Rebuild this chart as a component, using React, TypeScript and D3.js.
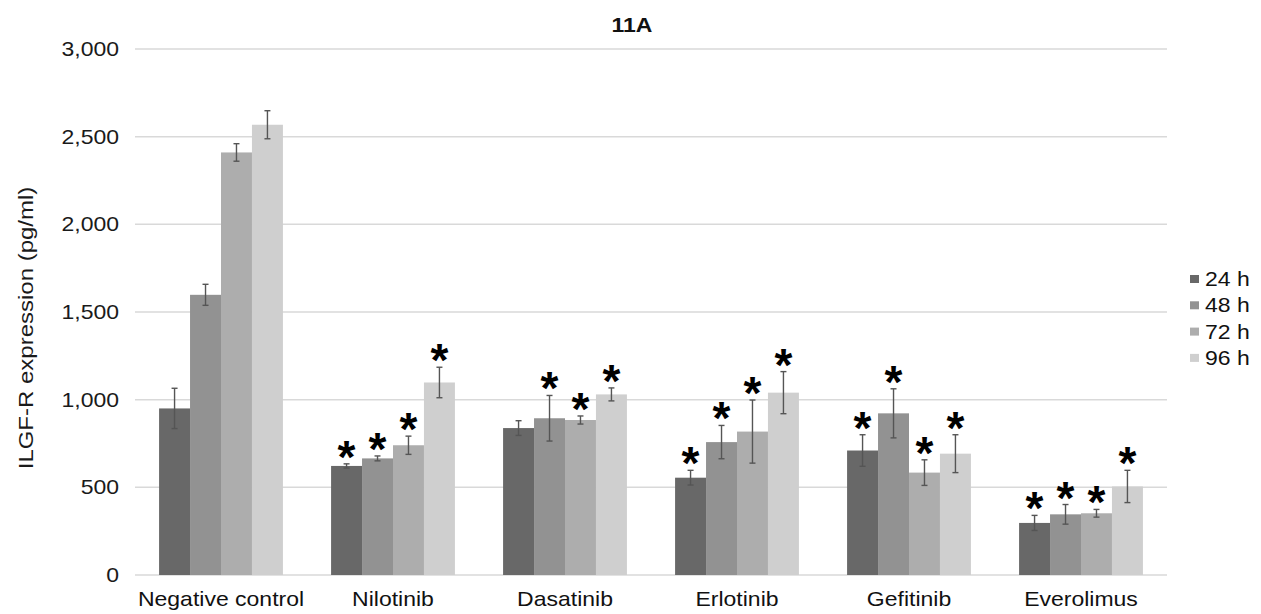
import React from 'react';
import * as d3 from 'd3';

const categories = ['Negative control', 'Nilotinib', 'Dasatinib', 'Erlotinib', 'Gefitinib', 'Everolimus'];
const seriesNames = ['24 h', '48 h', '72 h', '96 h'];
const colors = ['#686868', '#929292', '#adadad', '#cfcfcf'];

const values24 = [950, 622, 838, 555, 710, 297];
const values48 = [1598, 665, 894, 758, 922, 346];
const values72 = [2410, 740, 884, 818, 584, 352];
const values96 = [2568, 1098, 1030, 1040, 692, 505];

const err24 = [115, 12, 42, 42, 90, 43];
const err48 = [60, 14, 130, 95, 140, 56];
const err72 = [50, 52, 23, 180, 73, 22];
const err96 = [80, 87, 37, 120, 108, 92];

const sig24 = [false, true, false, true, true, true];
const sig48 = [false, true, true, true, true, true];
const sig72 = [false, true, true, true, true, true];
const sig96 = [false, true, true, true, true, true];

const yTicks = [0, 500, 1000, 1500, 2000, 2500, 3000];

const W = 1261;
const H = 614;
const margin = { top: 49, right: 94, bottom: 39, left: 135 };
const font = '"Liberation Sans", Arial, sans-serif';
const SX = 1.15; // text in the reference is a bit wider than tall

export default function App() {
  const values = [values24, values48, values72, values96];
  const errs = [err24, err48, err72, err96];
  const sigs = [sig24, sig48, sig72, sig96];

  const x0 = d3
    .scaleBand<string>()
    .domain(categories)
    .range([margin.left, W - margin.right])
    .paddingInner(0.28)
    .paddingOuter(0.14);
  const x1 = d3.scaleBand<string>().domain(seriesNames).range([0, x0.bandwidth()]).padding(0);
  const y = d3.scaleLinear().domain([0, 3000]).range([H - margin.bottom, margin.top]);
  const fmt = d3.format(',');

  const bars: any[] = [];
  categories.forEach((c, ci) => {
    seriesNames.forEach((s, si) => {
      bars.push({
        key: c + s,
        x: x0(c)! + x1(s)!,
        w: x1.bandwidth(),
        v: values[si][ci],
        e: errs[si][ci],
        sig: sigs[si][ci],
        color: colors[si],
      });
    });
  });

  return (
    <svg
      width={W}
      height={H}
      style={{ position: 'absolute', left: 0, top: 0, background: '#fff' }}
      fontFamily={font}
    >
      <rect width={W} height={H} fill="#fff" />
      {/* gridlines */}
      {yTicks.map((t) => (
        <line
          key={t}
          x1={margin.left}
          x2={W - margin.right}
          y1={y(t)}
          y2={y(t)}
          stroke="#d9d9d9"
          strokeWidth={1.5}
        />
      ))}
      {yTicks.map((t) => (
        <g key={'l' + t} transform={`translate(119,${y(t) + 7}) scale(${SX},1)`}>
          <text textAnchor="end" fontSize={20} fill="#1a1a1a">
            {fmt(t)}
          </text>
        </g>
      ))}
      <g transform={`translate(33,${(y(0) + y(3000)) / 2 + 16}) rotate(-90) scale(1.2,1)`}>
        <text textAnchor="middle" fontSize={20} fill="#1a1a1a">
          ILGF-R expression (pg/ml)
        </text>
      </g>

      {/* bars */}
      {bars.map((b) => (
        <rect key={b.key} x={b.x} y={y(b.v)} width={b.w} height={y(0) - y(b.v)} fill={b.color} />
      ))}
      {/* error bars */}
      {bars.map((b) => {
        const cx = b.x + b.w / 2;
        return (
          <g key={'e' + b.key} stroke="#555" strokeWidth={1.4}>
            <line x1={cx} x2={cx} y1={y(b.v + b.e)} y2={y(b.v - b.e)} />
            <line x1={cx - 3} x2={cx + 3} y1={y(b.v + b.e)} y2={y(b.v + b.e)} />
            <line x1={cx - 3} x2={cx + 3} y1={y(b.v - b.e)} y2={y(b.v - b.e)} />
          </g>
        );
      })}
      {/* significance stars */}
      {bars
        .filter((b) => b.sig)
        .map((b) => (
          <text
            key={'s' + b.key}
            x={b.x + b.w / 2}
            y={y(b.v + b.e) + 9}
            textAnchor="middle"
            fontSize={46}
            fontWeight="bold"
            fill="#000"
          >
            *
          </text>
        ))}

      {/* category labels */}
      {categories.map((c) => (
        <g key={'c' + c} transform={`translate(${x0(c)! + x0.bandwidth() / 2},606) scale(${SX},1)`}>
          <text textAnchor="middle" fontSize={20} fill="#111">
            {c}
          </text>
        </g>
      ))}

      {/* title */}
      <g transform={`translate(632,32) scale(${SX},1)`}>
        <text textAnchor="middle" fontSize={20} fontWeight="bold" fill="#111">
          11A
        </text>
      </g>

      {/* legend */}
      {seriesNames.map((s, i) => (
        <g key={'lg' + s} transform={`translate(1190,${279 + i * 26.3})`}>
          <rect x={0} y={-4} width={9} height={8} fill={colors[i]} />
          <g transform={`translate(15,7) scale(${SX},1)`}>
            <text fontSize={20} fill="#111">
              {s}
            </text>
          </g>
        </g>
      ))}
    </svg>
  );
}
